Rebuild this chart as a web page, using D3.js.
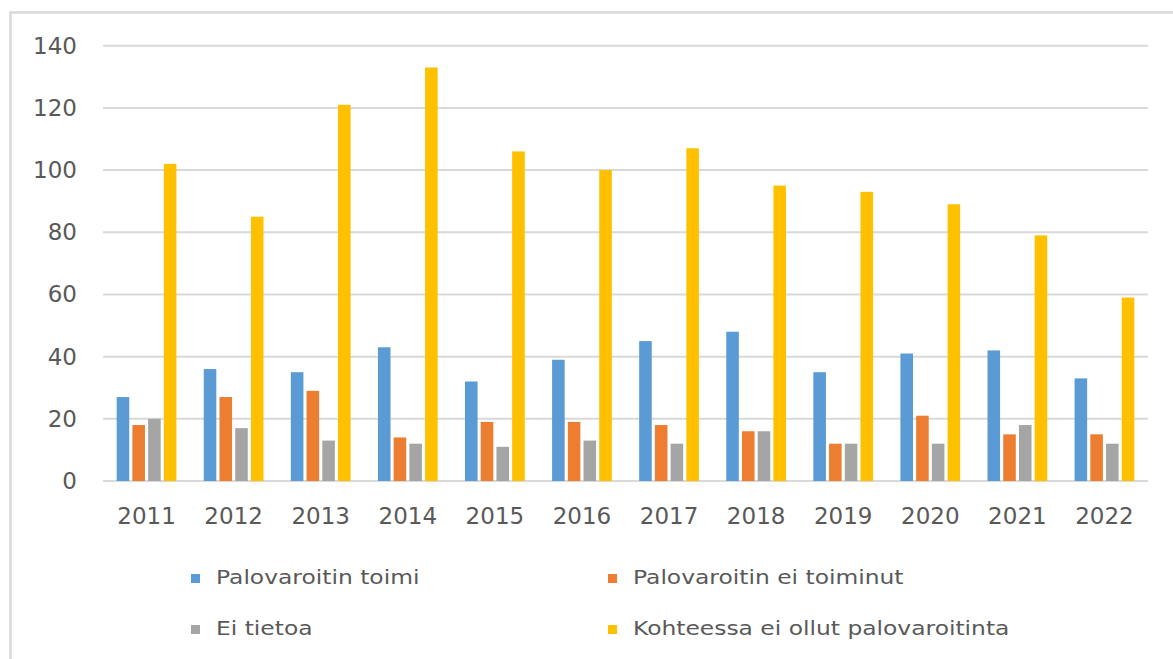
<!DOCTYPE html>
<html>
<head>
<meta charset="utf-8">
<script src="https://cdn.jsdelivr.net/npm/d3@7"></script>
<style>
  body { margin: 0; background: #fff; }
  text { font-family: "DejaVu Sans", sans-serif; fill: #595959; }
</style>
</head>
<body>
<script>
// data
var years = ['2011','2012','2013','2014','2015','2016','2017','2018','2019','2020','2021','2022'];
var seriesNames = ['Palovaroitin toimi', 'Palovaroitin ei toiminut', 'Ei tietoa', 'Kohteessa ei ollut palovaroitinta'];
var toimi      = [27, 36, 35, 43, 32, 39, 45, 48, 35, 41, 42, 33];
var eiToiminut = [18, 27, 29, 14, 19, 19, 18, 16, 12, 21, 15, 15];
var eiTietoa   = [20, 17, 13, 12, 11, 13, 12, 16, 12, 12, 18, 12];
var eiOllut    = [102, 85, 121, 133, 106, 100, 107, 95, 93, 89, 79, 59];
var yTicks = [0, 20, 40, 60, 80, 100, 120, 140];
var colors = ['#5b9bd5', '#ed7d31', '#a5a5a5', '#ffc000'];

var width = 1173, height = 659;
var plot = {left: 103, right: 1148, top: 45.7, bottom: 481};

var svg = d3.select('body').append('svg')
    .attr('width', width)
    .attr('height', height);

// outer chart border (runs off the right and bottom edge)
svg.append('rect')
    .attr('x', 10.5).attr('y', 12.5)
    .attr('width', 1200).attr('height', 700)
    .attr('fill', 'none')
    .attr('stroke', '#d9d9d9')
    .attr('stroke-width', 2.5);

var x0 = d3.scaleBand()
    .domain(years)
    .range([plot.left, plot.right])
    .paddingInner(0.314)
    .paddingOuter(0.157);
var x1 = d3.scaleBand()
    .domain(d3.range(seriesNames.length))
    .range([0, x0.bandwidth()])
    .paddingInner(0.2);
var y = d3.scaleLinear()
    .domain([0, 140])
    .range([plot.bottom, plot.top]);

// gridlines
svg.append('g')
    .selectAll('line')
    .data(yTicks)
  .enter().append('line')
    .attr('x1', plot.left).attr('x2', plot.right)
    .attr('y1', function(d) { return y(d); })
    .attr('y2', function(d) { return y(d); })
    .attr('stroke', '#d9d9d9')
    .attr('stroke-width', 2);

// y axis labels
var yAxis = d3.axisLeft(y).tickValues(yTicks).tickSize(0).tickPadding(26);
svg.append('g')
    .attr('transform', 'translate(' + plot.left + ',0)')
    .call(yAxis)
    .call(function(g) { g.select('.domain').remove(); })
    .selectAll('text')
    .style('font-size', '23px')
    .attr('font-family', null);

// x axis labels
var xAxis = d3.axisBottom(x0).tickSize(0).tickPadding(27);
svg.append('g')
    .attr('transform', 'translate(0,' + plot.bottom + ')')
    .call(xAxis)
    .call(function(g) { g.select('.domain').remove(); })
    .selectAll('text')
    .style('font-size', '23px')
    .attr('font-family', null);

// bars
var allSeries = [toimi, eiToiminut, eiTietoa, eiOllut];
var groups = svg.append('g').selectAll('g')
    .data(years)
  .enter().append('g')
    .attr('transform', function(d) { return 'translate(' + x0(d) + ',0)'; });

groups.selectAll('rect')
    .data(function(d, i) { return allSeries.map(function(s, k) { return {k: k, v: s[i]}; }); })
  .enter().append('rect')
    .attr('x', function(d) { return x1(d.k); })
    .attr('y', function(d) { return y(d.v); })
    .attr('width', x1.bandwidth())
    .attr('height', function(d) { return y(0) - y(d.v); })
    .attr('fill', function(d) { return colors[d.k]; });

// legend, 2 x 2
var legendPos = [[191, 584], [608, 584], [191, 635], [608, 635]];
var legend = svg.append('g').selectAll('g')
    .data(seriesNames)
  .enter().append('g')
    .attr('transform', function(d, i) { return 'translate(' + legendPos[i][0] + ',' + legendPos[i][1] + ')'; });

legend.append('rect')
    .attr('x', 0).attr('y', -10)
    .attr('width', 9).attr('height', 9)
    .attr('fill', function(d, i) { return colors[i]; });

legend.append('text')
    .attr('transform', 'translate(25,0) scale(1.17,1)')
    .style('font-size', '20px')
    .text(function(d) { return d; });
</script>
</body>
</html>
